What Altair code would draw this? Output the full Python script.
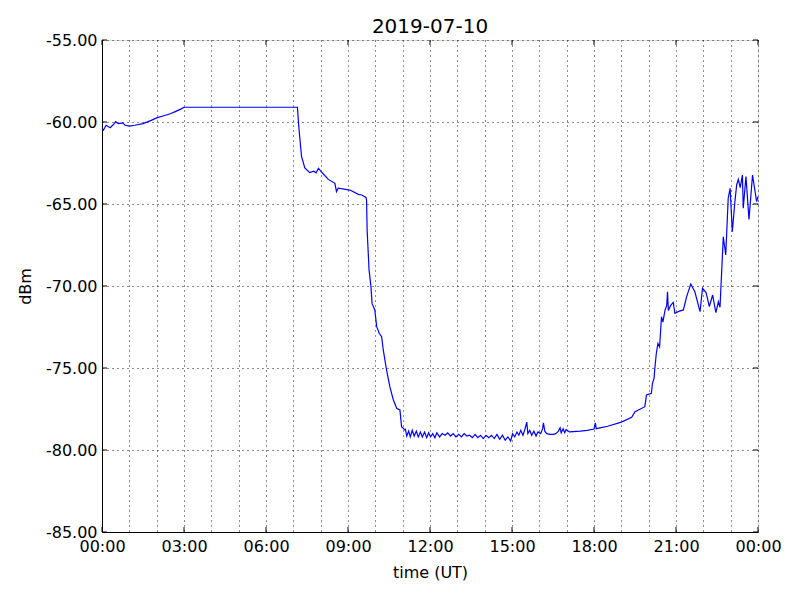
import altair as alt
import pandas as pd

# time in hours (UT) since 2019-07-10 00:00, signal in dBm
hours = [
    0.00, 0.05, 0.15, 0.30, 0.45, 0.50, 0.60, 0.75, 0.85, 1.00, 1.20, 1.50, 1.80, 2.00, 2.20, 2.50, 2.70, 2.90, 3.00,
    7.15, 7.20, 7.30, 7.42, 7.60, 7.75, 7.83, 7.92, 8.03, 8.28, 8.52, 8.58, 8.64, 9.07, 9.38, 9.50, 9.66, 9.68,
    9.70, 9.77, 9.84, 9.88, 9.98, 10.05, 10.14, 10.23, 10.29, 10.41, 10.53, 10.66, 10.78, 10.90, 10.96, 11.08,
    11.10, 11.15, 11.22, 11.28, 11.35, 11.42, 11.50, 11.57, 11.65, 11.72, 11.80, 11.88, 11.95, 12.02, 12.10,
    12.18, 12.25, 12.35, 12.45, 12.55, 12.65, 12.75, 12.85, 12.95, 13.05, 13.15, 13.25, 13.35, 13.45, 13.55,
    13.65, 13.75, 13.85, 13.95, 14.05, 14.15, 14.25, 14.35, 14.45, 14.55, 14.65, 14.75, 14.85, 14.95, 15.02,
    15.10, 15.18, 15.25, 15.32, 15.40, 15.47, 15.54, 15.58, 15.65, 15.72, 15.80, 15.88, 15.95, 16.05, 16.12,
    16.15, 16.20, 16.27, 16.40, 16.51, 16.60, 16.70, 16.76, 16.80, 16.87, 16.93, 16.98, 17.10, 17.24, 17.49,
    17.75, 18.00, 18.05, 18.08, 18.50, 19.00, 19.38, 19.50, 19.86, 19.92, 20.10, 20.14, 20.20, 20.22, 20.28,
    20.34, 20.40, 20.47, 20.52, 20.60, 20.66, 20.69, 20.72, 20.80, 20.90, 20.96, 21.10, 21.27, 21.39, 21.54,
    21.69, 21.88, 21.97, 22.10, 22.22, 22.34, 22.46, 22.55, 22.61, 22.73, 22.82, 22.91, 22.98, 23.06, 23.16,
    23.22, 23.28, 23.35, 23.43, 23.46, 23.56, 23.67, 23.80, 23.95, 24.00,
]
dbm = [
    -60.40, -60.50, -60.20, -60.35, -60.10, -59.98, -60.10, -60.05, -60.20, -60.25, -60.20, -60.10, -59.90, -59.75,
    -59.65, -59.50, -59.35, -59.20, -59.10,
    -59.10, -60.30, -62.10, -62.80, -63.09, -63.00, -63.10, -62.82, -63.05, -63.50, -63.74, -64.25, -64.04, -64.15,
    -64.41, -64.45, -64.60, -64.80,
    -66.60, -69.00, -70.04, -71.06, -71.46, -72.48, -72.88, -73.09, -73.90, -75.12, -76.14, -76.95, -77.46, -77.56,
    -78.58, -78.78,
    -78.75, -79.15, -78.85, -79.20, -78.80, -79.15, -78.85, -79.20, -78.90, -79.20, -78.90, -79.25, -78.95, -79.20,
    -79.00, -79.25, -78.95, -79.20, -79.00, -79.10, -78.95, -79.15, -79.00, -79.20, -79.05, -79.20, -79.00, -79.15,
    -79.10, -79.25, -79.05, -79.25, -79.10, -79.30, -79.10, -79.25, -79.10, -79.30, -79.05, -79.35, -79.10, -79.40,
    -79.20, -79.45, -79.00,
    -79.20, -78.90, -79.10, -78.80, -79.10, -78.75, -78.30, -79.00, -78.80, -79.10, -78.85, -79.15, -78.90, -79.00,
    -78.70, -78.35, -78.85, -79.00, -79.05, -79.05, -79.00, -78.85, -78.65, -78.95, -78.70, -78.95, -78.75, -78.90,
    -78.88, -78.85, -78.80, -78.72, -78.35, -78.70, -78.55, -78.30, -78.00, -77.66, -77.36, -76.65, -76.54, -75.93,
    -75.60, -75.12, -74.10, -73.50, -73.70, -71.87, -72.20, -71.46, -71.20, -70.35, -71.50, -71.20, -71.00, -71.67,
    -71.55, -71.46, -70.65, -69.88, -70.35, -71.56, -70.14, -70.40, -71.26, -70.55, -71.63, -70.96, -71.30, -67.00,
    -68.11, -64.65, -64.04, -66.69, -64.76, -63.84, -63.50, -64.00, -63.23, -65.26, -63.33, -65.94, -63.23, -64.86,
    -64.55,
]

x_grid = list(range(0, 25))
x_major = [0, 3, 6, 9, 12, 15, 18, 21, 24]
y_ticks = [-85, -80, -75, -70, -65, -60, -55]

df = pd.DataFrame({"hour": hours, "dbm": dbm})
ydf = pd.DataFrame({"dbm": y_ticks})
xdf = pd.DataFrame({"hour": x_major})

FONT = "DejaVu Sans"
H = 492
W = 656

x_scale = alt.Scale(domain=[0, 24], nice=False, zero=False)
y_scale = alt.Scale(domain=[-85, -55], nice=False, zero=False)

x_axis = alt.Axis(
    title="time (UT)",
    values=x_grid,
    labelExpr="datum.value % 3 == 0 ? ((datum.value % 24) < 10 ? '0' : '') + (datum.value % 24) + ':00' : ''",
    grid=True,
    gridColor="black",
    gridDash=[1, 4],
    gridWidth=0.9,
    gridOpacity=1,
    ticks=False,
    domainColor="black",
    labelFont=FONT,
    labelFontSize=16,
    labelColor="black",
    labelPadding=6,
    labelOverlap=False,
    labelFlush=False,
    titleFont=FONT,
    titleFontSize=16,
    titleFontWeight="normal",
    titleColor="black",
    titlePadding=10,
)
y_axis = alt.Axis(
    title="dBm",
    values=y_ticks,
    labelExpr="replace(format(datum.value, '.2f'), '\u2212', '-')",
    grid=True,
    gridColor="black",
    gridDash=[1, 4],
    gridWidth=0.9,
    gridOpacity=1,
    ticks=False,
    domainColor="black",
    labelFont=FONT,
    labelFontSize=16,
    labelColor="black",
    labelPadding=5,
    labelOverlap=False,
    labelFlush=False,
    titleFont=FONT,
    titleFontSize=16,
    titleFontWeight="normal",
    titleColor="black",
    titlePadding=12,
)

line = alt.Chart(df).mark_line(color="#0000ff", strokeWidth=1.2).encode(
    x=alt.X("hour:Q", scale=x_scale, axis=x_axis),
    y=alt.Y("dbm:Q", scale=y_scale, axis=y_axis),
)

# inward ticks, matplotlib classic style
ytick_left = alt.Chart(ydf).mark_rule(color="black", strokeWidth=1).encode(
    y=alt.Y("dbm:Q", scale=y_scale, axis=y_axis), x=alt.value(0), x2=alt.value(5)
)
ytick_right = alt.Chart(ydf).mark_rule(color="black", strokeWidth=1).encode(
    y=alt.Y("dbm:Q", scale=y_scale, axis=y_axis), x=alt.value(W - 5), x2=alt.value(W)
)
xtick_bottom = alt.Chart(xdf).mark_rule(color="black", strokeWidth=1).encode(
    x=alt.X("hour:Q", scale=x_scale, axis=x_axis), y=alt.value(H - 5), y2=alt.value(H)
)
xtick_top = alt.Chart(xdf).mark_rule(color="black", strokeWidth=1).encode(
    x=alt.X("hour:Q", scale=x_scale, axis=x_axis), y=alt.value(0), y2=alt.value(5)
)

chart = alt.layer(line, ytick_left, ytick_right, xtick_bottom, xtick_top).properties(
    width=W,
    height=H,
    title=alt.TitleParams(
        "2019-07-10", font=FONT, fontSize=20, fontWeight="normal", color="black",
        anchor="middle", offset=6, dy=11
    ),
    autosize=alt.AutoSizeParams(type="none"),
    padding={"left": 94, "top": 32, "right": 34, "bottom": 52},
).configure_view(
    stroke="black", strokeWidth=1
).configure(background="white")

chart.save("out.html", embed_options={"renderer": "svg", "actions": False})
